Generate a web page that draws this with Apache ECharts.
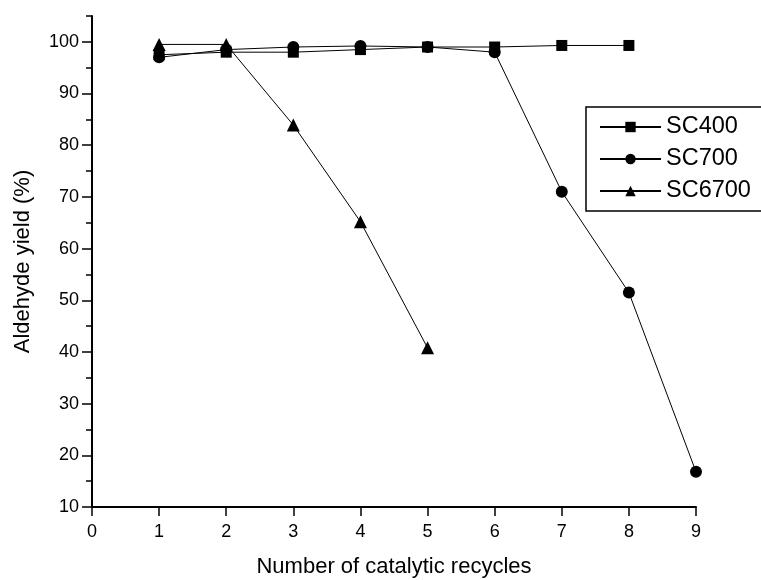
<!DOCTYPE html>
<html>
<head>
<meta charset="utf-8">
<script src="https://cdn.jsdelivr.net/npm/echarts@6/dist/echarts.min.js"></script>
<style>
html,body{margin:0;padding:0;background:#fff;}
#chart{width:761px;height:580px;}
</style>
</head>
<body>
<div id="chart"></div>
<script>
var seriesNames = ['SC400', 'SC700', 'SC6700'];
var sc400 = [[1, 97.5], [2, 98], [3, 98], [4, 98.5], [5, 99], [6, 99], [7, 99.3], [8, 99.3]];
var sc700 = [[1, 97], [2, 98.5], [3, 99], [4, 99.2], [5, 99], [6, 98], [7, 71], [8, 51.5], [9, 16.8]];
var sc6700 = [[1, 99.5], [2, 99.5], [3, 83.9], [4, 65.2], [5, 40.8]];
var yMajorTicks = [10, 20, 30, 40, 50, 60, 70, 80, 90, 100];
var xTicks = [0, 1, 2, 3, 4, 5, 6, 7, 8, 9];

var font = 'Liberation Sans, Arial, Helvetica, sans-serif';
var chart = echarts.init(document.getElementById('chart'));

function mk(name, data, symbol, size) {
  return {
    name: name,
    type: 'line',
    data: data,
    symbol: symbol,
    symbolSize: size,
    showAllSymbol: true,
    lineStyle: { color: '#000', width: 1 },
    itemStyle: { color: '#000' },
    emphasis: { disabled: true },
    animation: false
  };
}

chart.setOption({
  backgroundColor: '#fff',
  animation: false,
  grid: { left: 92, right: 65, top: 16, bottom: 73, containLabel: false, outerBoundsMode: 'none' },
  legend: {
    data: seriesNames,
    orient: 'vertical',
    left: 586,
    top: 107,
    itemWidth: 61,
    itemHeight: 13,
    itemGap: 8,
    padding: [8, 40, 8, 13],
    borderColor: '#000',
    borderWidth: 1.5,
    backgroundColor: '#fff',
    textStyle: { fontFamily: font, fontSize: 23.5, color: '#000', lineHeight: 24 }
  },
  xAxis: {
    type: 'value',
    min: 0, max: 9, interval: 1,
    name: 'Number of catalytic recycles',
    nameLocation: 'middle',
    nameGap: 49,
    nameTextStyle: { fontFamily: font, fontSize: 22, color: '#000' },
    axisLine: { show: true, onZero: false, lineStyle: { color: '#000', width: 2 } },
    axisTick: { show: true, length: 9, lineStyle: { color: '#000', width: 1.5 }, customValues: xTicks },
    axisLabel: { fontFamily: font, fontSize: 18, color: '#000', margin: 16, customValues: xTicks },
    splitLine: { show: false }
  },
  yAxis: [{
    type: 'value',
    min: 10, max: 105, interval: 10,
    name: 'Aldehyde yield (%)',
    nameLocation: 'middle',
    nameGap: 58,
    nameTextStyle: { fontFamily: font, fontSize: 22, color: '#000' },
    axisLine: { show: true, onZero: false, lineStyle: { color: '#000', width: 2 } },
    axisTick: { show: true, length: 10, lineStyle: { color: '#000', width: 1.5 }, customValues: yMajorTicks },
    axisLabel: { fontFamily: font, fontSize: 18, color: '#000', margin: 13, customValues: yMajorTicks },
    splitLine: { show: false }
  }, {
    type: 'value',
    min: 10, max: 105, interval: 5,
    position: 'left',
    axisLine: { show: false },
    axisTick: { show: true, length: 6, lineStyle: { color: '#000', width: 1.5 } },
    axisLabel: { show: false },
    splitLine: { show: false }
  }],
  series: [
    mk('SC400', sc400, 'rect', 11),
    mk('SC700', sc700, 'circle', 12),
    mk('SC6700', sc6700, 'triangle', 13)
  ]
});
</script>
</body>
</html>
